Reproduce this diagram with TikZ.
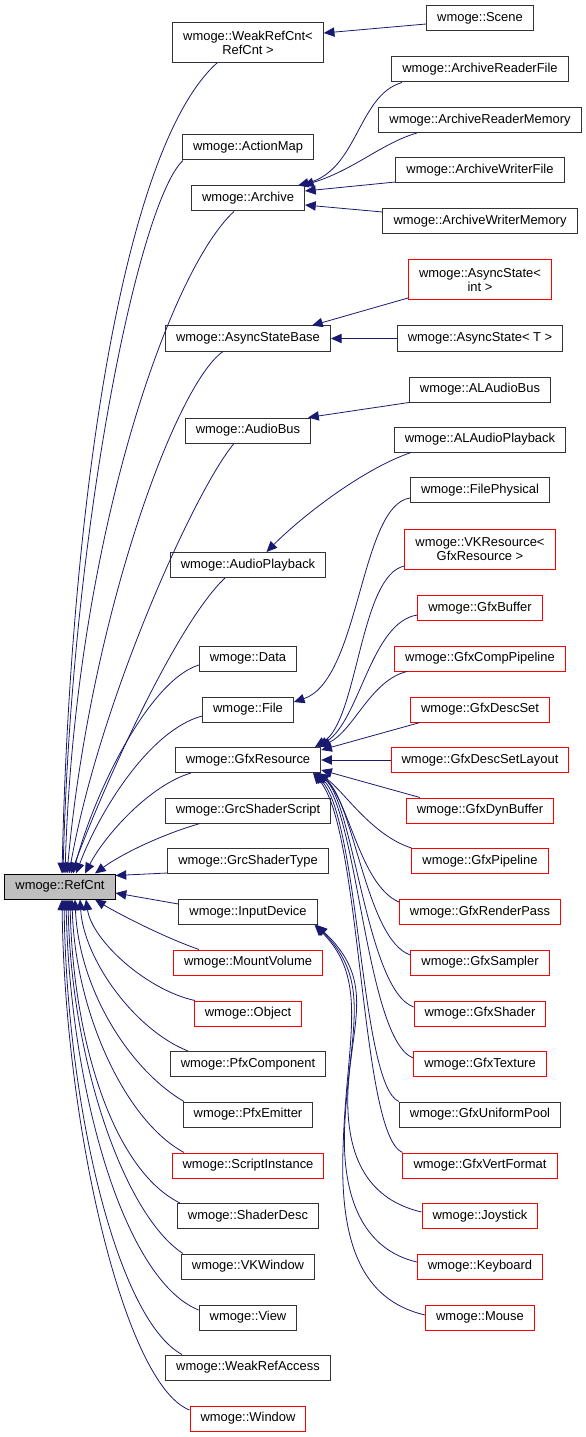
\documentclass[tikz,border=0pt]{standalone}
\usepackage{fontspec}
\setmainfont{Liberation Sans}
\usepackage{xcolor}
\usetikzlibrary{arrows.meta,positioning,calc}

\definecolor{edgeblue}{HTML}{191970}
\definecolor{nodered}{HTML}{FF0000}

\tikzset{
    cls/.style={draw=black!80, line width=0.75pt, rectangle, inner xsep=7.9pt, inner ysep=0pt,
        minimum height=18.75pt, align=center, font=\fontsize{9.7}{10.5}\selectfont},
    clsred/.style={cls, draw=nodered},
    clsbase/.style={cls, draw=black, fill=black!25},
    twoline/.style={minimum height=30pt},
    inh/.style={draw=edgeblue, line width=0.6pt, -{Triangle[length=8pt,width=7pt]}}
}

\begin{document}
\begin{tikzpicture}[x=0.75pt, y=0.75pt]
    \useasboundingbox (0,0) rectangle (585,-1437);

    % Base class
    \node[clsbase] (RefCnt) at (60,-886.5) {wmoge::RefCnt};

    % Direct children of RefCnt
    \node[cls, twoline] (WeakRefCnt) at (248,-42.5) {wmoge::WeakRefCnt<\\RefCnt >};
    \node[cls] (ActionMap) at (248,-147.5) {wmoge::ActionMap};
    \node[cls] (Archive) at (248,-198.5) {wmoge::Archive};
    \node[cls] (AsyncStateBase) at (248,-338.5) {wmoge::AsyncStateBase};
    \node[cls] (AudioBus) at (248,-430.5) {wmoge::AudioBus};
    \node[cls] (AudioPlayback) at (248,-565) {wmoge::AudioPlayback};
    \node[cls] (Data) at (248,-658.5) {wmoge::Data};
    \node[cls] (File) at (248,-709.5) {wmoge::File};
    \node[cls] (GfxResource) at (248,-760) {wmoge::GfxResource};
    \node[cls] (GrcShaderScript) at (248,-810.5) {wmoge::GrcShaderScript};
    \node[cls] (GrcShaderType) at (248,-861) {wmoge::GrcShaderType};
    \node[cls] (InputDevice) at (248,-912) {wmoge::InputDevice};
    \node[clsred] (MountVolume) at (248,-962.5) {wmoge::MountVolume};
    \node[clsred] (Object) at (248,-1013.5) {wmoge::Object};
    \node[cls] (PfxComponent) at (248,-1064) {wmoge::PfxComponent};
    \node[cls] (PfxEmitter) at (248,-1114.5) {wmoge::PfxEmitter};
    \node[clsred] (ScriptInstance) at (248,-1165.5) {wmoge::ScriptInstance};
    \node[cls] (ShaderDesc) at (248,-1216) {wmoge::ShaderDesc};
    \node[cls] (VKWindow) at (248,-1266.5) {wmoge::VKWindow};
    \node[cls] (View) at (248,-1317.5) {wmoge::View};
    \node[cls] (WeakRefAccess) at (248,-1367.5) {wmoge::WeakRefAccess};
    \node[clsred] (Window) at (248,-1418.5) {wmoge::Window};

    % Second level
    \node[cls] (Scene) at (480,-18.5) {wmoge::Scene};
    \node[cls] (ArchiveReaderFile) at (480,-69.5) {wmoge::ArchiveReaderFile};
    \node[cls] (ArchiveReaderMemory) at (480,-120) {wmoge::ArchiveReaderMemory};
    \node[cls] (ArchiveWriterFile) at (480,-170.5) {wmoge::ArchiveWriterFile};
    \node[cls] (ArchiveWriterMemory) at (480,-221) {wmoge::ArchiveWriterMemory};
    \node[clsred, twoline] (AsyncStateInt) at (480,-280) {wmoge::AsyncState<\\int >};
    \node[cls] (AsyncStateT) at (480,-338.5) {wmoge::AsyncState< T >};
    \node[cls] (ALAudioBus) at (480,-389.5) {wmoge::ALAudioBus};
    \node[cls] (ALAudioPlayback) at (480,-439.5) {wmoge::ALAudioPlayback};
    \node[cls] (FilePhysical) at (480,-490) {wmoge::FilePhysical};
    \node[clsred, twoline] (VKResource) at (480,-549) {wmoge::VKResource<\\GfxResource >};
    \node[clsred] (GfxBuffer) at (480,-608) {wmoge::GfxBuffer};
    \node[clsred] (GfxCompPipeline) at (480,-658.5) {wmoge::GfxCompPipeline};
    \node[clsred] (GfxDescSet) at (480,-709.5) {wmoge::GfxDescSet};
    \node[clsred] (GfxDescSetLayout) at (480,-760) {wmoge::GfxDescSetLayout};
    \node[clsred] (GfxDynBuffer) at (480,-810.5) {wmoge::GfxDynBuffer};
    \node[clsred] (GfxPipeline) at (480,-861) {wmoge::GfxPipeline};
    \node[clsred] (GfxRenderPass) at (480,-912) {wmoge::GfxRenderPass};
    \node[clsred] (GfxSampler) at (480,-962.5) {wmoge::GfxSampler};
    \node[clsred] (GfxShader) at (480,-1013.5) {wmoge::GfxShader};
    \node[clsred] (GfxTexture) at (480,-1064) {wmoge::GfxTexture};
    \node[cls] (GfxUniformPool) at (480,-1114.5) {wmoge::GfxUniformPool};
    \node[clsred] (GfxVertFormat) at (480,-1165.5) {wmoge::GfxVertFormat};
    \node[clsred] (Joystick) at (480,-1216) {wmoge::Joystick};
    \node[clsred] (Keyboard) at (480,-1266.5) {wmoge::Keyboard};
    \node[clsred] (Mouse) at (480,-1317.5) {wmoge::Mouse};

    % Edges into RefCnt from above
    \draw[inh] ($(WeakRefCnt.south)+(-31,0)$) .. controls (120,-150) and (70,-520) .. ($(RefCnt.north)+(2,0)$);
    \draw[inh] ($(ActionMap.south west)+(1,0)$) .. controls (140,-200) and (72,-520) .. ($(RefCnt.north)+(3,0)$);
    \draw[inh] ($(Archive.south)+(-14,0)$) .. controls (170,-270) and (75,-540) .. ($(RefCnt.north)+(5,0)$);
    \draw[inh] ($(AsyncStateBase.south)+(-25,0)$) .. controls (175,-385) and (90,-620) .. ($(RefCnt.north)+(7,0)$);
    \draw[inh] ($(AudioBus.south)+(-14,0)$) .. controls (195,-490) and (100,-700) .. ($(RefCnt.north)+(9,0)$);
    \draw[inh] ($(AudioPlayback.south)+(-23,0)$) .. controls (180,-620) and (110,-770) .. ($(RefCnt.north)+(11,0)$);
    \draw[inh] ($(Data.west)+(0,-6.5)$) .. controls (150,-680) and (95,-790) .. ($(RefCnt.north)+(13,0)$);
    \draw[inh] ($(File.west)+(0,-6.5)$) .. controls (150,-730) and (100,-810) .. ($(RefCnt.north)+(16,0)$);
    \draw[inh] ($(GfxResource.south)+(-57,0)$) .. controls (150,-785) and (105,-835) .. ($(RefCnt.north)+(25,0)$);
    \draw[inh] ($(GrcShaderScript.south)+(-48,0)$) .. controls (160,-835) and (120,-855) .. ($(RefCnt.north)+(35,0)$);
    \draw[inh] ($(GrcShaderType.west)+(0,-12)$) -- ($(RefCnt.east)+(0,11)$);
    \draw[inh] ($(InputDevice.west)+(0,8)$) -- ($(RefCnt.east)+(0,-6.5)$);

    % Edges into RefCnt from below
    \draw[inh] ($(MountVolume.north)+(-49,0)$) .. controls (158,-935) and (112,-910) .. ($(RefCnt.south)+(35,0)$);
    \draw[inh] ($(Object.north)+(-53,0)$) .. controls (146,-990) and (92,-940) .. ($(RefCnt.south)+(26,0)$);
    \draw[inh] ($(PfxComponent.north)+(-60,0)$) .. controls (135,-1030) and (84,-960) .. ($(RefCnt.south)+(20,0)$);
    \draw[inh] ($(PfxEmitter.north)+(-64,0)$) .. controls (130,-1070) and (79,-990) .. ($(RefCnt.south)+(15,0)$);
    \draw[inh] ($(ScriptInstance.north)+(-64,0)$) .. controls (124,-1120) and (75,-1010) .. ($(RefCnt.south)+(12,0)$);
    \draw[inh] ($(ShaderDesc.north)+(-68,0)$) .. controls (113,-1170) and (73,-1040) .. ($(RefCnt.south)+(10,0)$);
    \draw[inh] ($(VKWindow.north)+(-65,0)$) .. controls (124,-1215) and (71,-1060) .. ($(RefCnt.south)+(8,0)$);
    \draw[inh] ($(View.west)+(0,7.5)$) .. controls (124,-1280) and (70,-1090) .. ($(RefCnt.south)+(6,0)$);
    \draw[inh] ($(WeakRefAccess.north)+(-66,0)$) .. controls (118,-1320) and (67,-1110) .. ($(RefCnt.south)+(4,0)$);
    \draw[inh] ($(Window.west)+(0,8.5)$) .. controls (125,-1385) and (65,-1130) .. ($(RefCnt.south)+(2,0)$);

    % Second level edges
    \draw[inh] ($(Scene.west)+(0,-5.5)$) -- ($(WeakRefCnt.east)+(0,9.5)$);
    \draw[inh] ($(ArchiveReaderFile.south)+(-78,0)$) .. controls (358,-95) and (358,-170) .. ($(Archive.north)+(50,0)$);
    \draw[inh] ($(ArchiveReaderMemory.south)+(-63,0)$) .. controls (382,-143) and (354,-170) .. ($(Archive.north)+(55,0)$);
    \draw[inh] ($(ArchiveWriterFile.west)+(0,-11.5)$) -- ($(Archive.east)+(0,7.5)$);
    \draw[inh] ($(ArchiveWriterMemory.west)+(0,9)$) -- ($(Archive.east)+(0,-6.5)$);
    \draw[inh] ($(AsyncStateInt.west)+(0,-18)$) -- ($(AsyncStateBase.north)+(64,0)$);
    \draw[inh] (AsyncStateT) -- (AsyncStateBase);
    \draw[inh] (ALAudioBus.south west) -- ($(AudioBus.north east)+(-3,0)$);
    \draw[inh] ($(ALAudioPlayback.south)+(-69,0)$) .. controls (360,-470) and (298,-520) .. ($(AudioPlayback.north)+(18.5,0)$);
    \draw[inh] ($(FilePhysical.west)+(0,-8)$) .. controls (360,-505) and (360,-680) .. ($(File.east)+(0,7.5)$);

    % GfxResource subclasses
    \draw[inh] ($(VKResource.west)+(0,-17)$) .. controls (360,-575) and (358,-720) .. ($(GfxResource.north)+(67,0)$);
    \draw[inh] ($(GfxBuffer.west)+(0,-7)$) .. controls (371,-622) and (360,-720) .. ($(GfxResource.north)+(70,0)$);
    \draw[inh] ($(GfxCompPipeline.south)+(-73,0)$) .. controls (371,-680) and (354,-730) .. ($(GfxResource.north east)+(-1,0)$);
    \draw[inh] ($(GfxDescSet.south)+(-60,0)$) -- ($(GfxResource.east)+(0,10)$);
    \draw[inh] (GfxDescSetLayout) -- (GfxResource);
    \draw[inh] ($(GfxDynBuffer.north)+(-60,0)$) -- ($(GfxResource.east)+(0,-10)$);
    \draw[inh] (GfxPipeline.north west) .. controls (371,-835) and (343,-790) .. ($(GfxResource.south)+(70,0)$);
    \draw[inh] ($(GfxRenderPass.west)+(0,10)$) .. controls (360,-885) and (349,-800) .. ($(GfxResource.south)+(70,0)$);
    \draw[inh] ($(GfxSampler.west)+(0,7.5)$) .. controls (366,-940) and (354,-800) .. ($(GfxResource.south)+(69,0)$);
    \draw[inh] ($(GfxShader.west)+(0,6.5)$) .. controls (366,-990) and (354,-800) .. ($(GfxResource.south)+(68,0)$);
    \draw[inh] ($(GfxTexture.west)+(0,6)$) .. controls (366,-1040) and (358,-810) .. ($(GfxResource.south)+(67,0)$);
    \draw[inh] (GfxUniformPool.north west) .. controls (360,-1085) and (360,-820) .. ($(GfxResource.south)+(66,0)$);
    \draw[inh] (GfxVertFormat.north west) .. controls (360,-1135) and (362,-830) .. ($(GfxResource.south)+(65,0)$);

    % InputDevice subclasses
    \draw[inh] ($(Joystick.west)+(0,4)$) .. controls (370,-1200) and (345,-1160) .. (348,-1090)
        .. controls (352,-1020) and (375,-980) .. ($(InputDevice.south east)+(-1,0)$);
    \draw[inh] ($(Keyboard.west)+(0,4.5)$) .. controls (365,-1250) and (340,-1200) .. (345,-1120)
        .. controls (350,-1030) and (372,-980) .. ($(InputDevice.south east)+(-2,0)$);
    \draw[inh] ($(Mouse.west)+(0,2.5)$) .. controls (360,-1300) and (340,-1240) .. (343,-1150)
        .. controls (346,-1040) and (370,-980) .. ($(InputDevice.south east)+(-3,0)$);
\end{tikzpicture}
\end{document}
